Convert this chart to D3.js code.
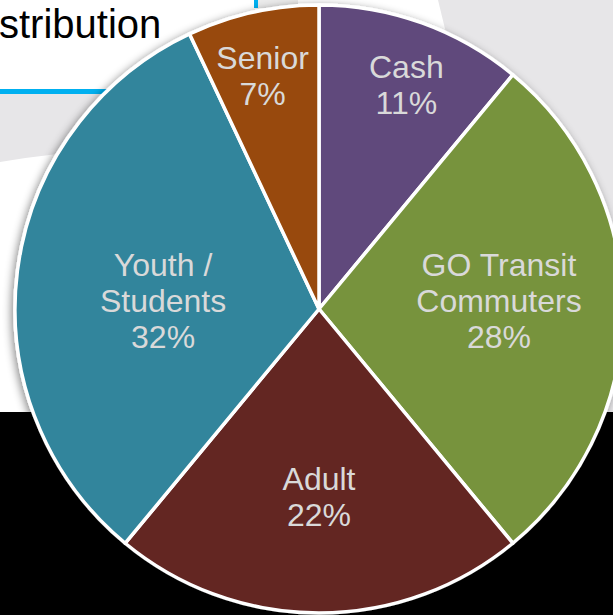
<!DOCTYPE html>
<html>
<head>
<meta charset="utf-8">
<script src="https://cdn.jsdelivr.net/npm/d3@7"></script>
<style>
  html, body { margin: 0; padding: 0; background: #fff; overflow: hidden; }
  svg { display: block; }
</style>
</head>
<body>
<div id="chart"></div>
<script>
// data
let categories = ['Cash', 'GO Transit Commuters', 'Adult', 'Youth / Students', 'Senior'];
let labelLines = [['Cash'], ['GO Transit', 'Commuters'], ['Adult'], ['Youth /', 'Students'], ['Senior']];
let shares = [11, 28, 22, 32, 7];
let colors = ['#604a7b', '#77933c', '#632523', '#31859c', '#984807'];

let width = 613;
let height = 615;
let cx = 319;
let cy = 309;
let radius = 304;

// where each label sits: share of the radius, plus a small nudge
let labelPos = {
  'Cash': {r: 0.79, dx: 6, dy: 2},
  'GO Transit Commuters': {r: 0.592, dx: 0, dy: -8},
  'Adult': {r: 0.62, dx: 0, dy: 0},
  'Youth / Students': {r: 0.517, dx: 0, dy: 12},
  'Senior': {r: 0.79, dx: -4, dy: 2}
};

let svg = d3.select('#chart')
  .append('svg')
    .attr('width', width)
    .attr('height', height);

let defs = svg.append('defs');
let shadow = defs.append('filter')
  .attr('id', 'shadow')
  .attr('x', '-10%').attr('y', '-10%')
  .attr('width', '120%').attr('height', '120%');
shadow.append('feDropShadow')
  .attr('dx', -2).attr('dy', 2)
  .attr('stdDeviation', 4)
  .attr('flood-color', '#000')
  .attr('flood-opacity', 0.45);

// slide background bits
let bg = svg.append('g');
bg.append('rect').attr('width', width).attr('height', height).attr('fill', '#fff');
bg.append('path')
  .attr('d', 'M438,0 L613,0 L613,420 L540,420 Z')
  .attr('fill', '#e7e6e8');
bg.append('path')
  .attr('d', 'M0,94 L130,94 L110,150 Q60,152 0,162 Z')
  .attr('fill', '#e7e6e8');
bg.append('rect')
  .attr('x', 0).attr('y', 89)
  .attr('width', 130).attr('height', 5)
  .attr('fill', '#00b0f0');
bg.append('rect')
  .attr('x', 258).attr('y', 0)
  .attr('width', 40).attr('height', 8)
  .attr('fill', '#ebebeb');
bg.append('rect')
  .attr('x', 254).attr('y', 0)
  .attr('width', 4).attr('height', 8)
  .attr('fill', '#00b0f0');
bg.append('rect')
  .attr('x', 0).attr('y', 412)
  .attr('width', width).attr('height', height - 412)
  .attr('fill', '#000');

svg.append('text')
  .attr('x', -1)
  .attr('y', 38)
  .style('font', '40px "Liberation Sans", Arial, sans-serif')
  .style('fill', '#000')
  .text('stribution');

let data = categories.map((c, i) => ({
  category: c,
  lines: labelLines[i],
  share: shares[i],
  color: colors[i]
}));

let pie = d3.pie()
  .sort(null)
  .value(d => d.share);

let arc = d3.arc()
  .innerRadius(0)
  .outerRadius(radius);

let arcs = pie(data);

let g = svg.append('g')
  .attr('transform', `translate(${cx},${cy})`);

g.append('g')
  .attr('filter', 'url(#shadow)')
  .selectAll('path')
  .data(arcs)
  .enter()
  .append('path')
    .attr('d', arc)
    .attr('fill', d => d.data.color)
    .attr('stroke', '#fff')
    .attr('stroke-width', 3.5)
    .attr('stroke-linejoin', 'round');

let lh = 36;
let labels = g.selectAll('.label')
  .data(arcs)
  .enter()
  .append('text')
    .attr('class', 'label')
    .attr('transform', d => {
      let p = labelPos[d.data.category];
      let r = radius * p.r;
      let c = d3.arc().innerRadius(r).outerRadius(r).centroid(d);
      return `translate(${c[0] + p.dx},${c[1] + p.dy})`;
    })
    .attr('text-anchor', 'middle')
    .style('font', '32px "Liberation Sans", Arial, sans-serif')
    .style('fill', '#d9d9d9');

labels.each(function (d) {
  let lines = d.data.lines.concat([d.data.share + '%']);
  let top = -(lines.length - 1) * lh / 2 + 10.5;
  d3.select(this).selectAll('tspan')
    .data(lines)
    .enter()
    .append('tspan')
      .attr('x', 0)
      .attr('y', (l, i) => top + i * lh)
      .text(l => l);
});
</script>
</body>
</html>
